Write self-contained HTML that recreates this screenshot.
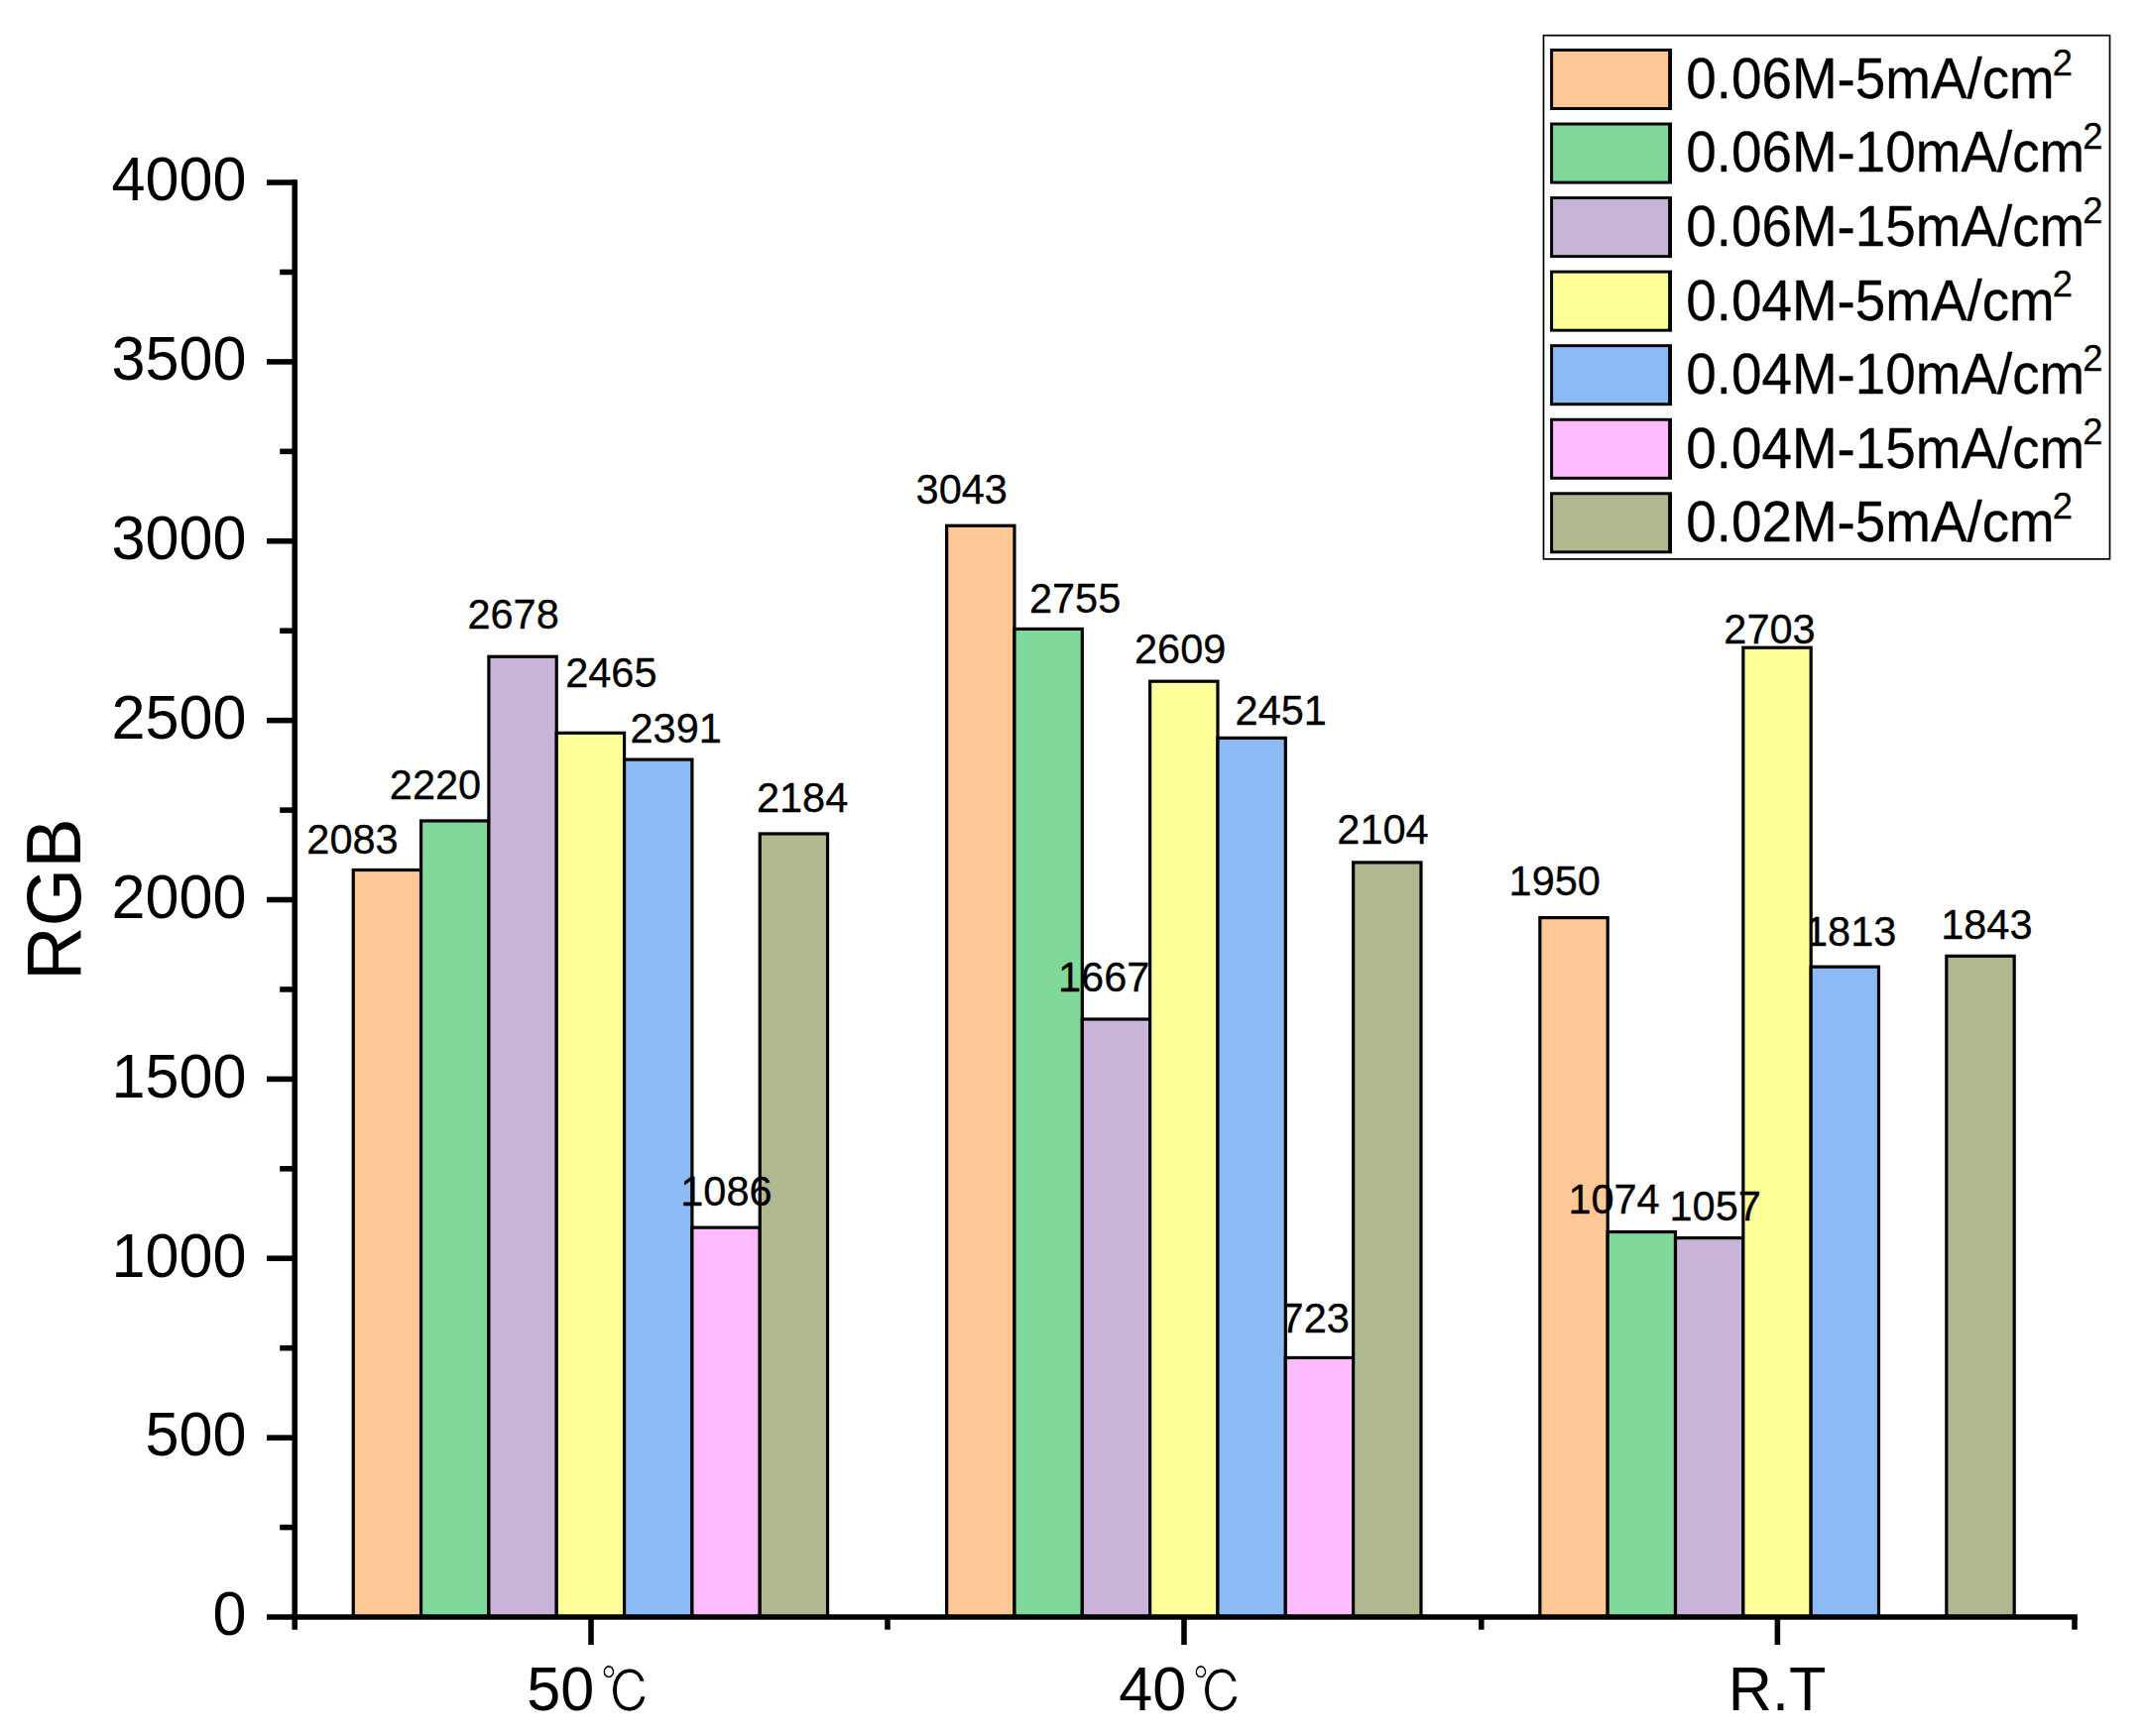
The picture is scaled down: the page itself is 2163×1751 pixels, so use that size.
<!DOCTYPE html>
<html lang="zh"><head><meta charset="utf-8"><title>RGB bar chart</title>
<style>html,body{margin:0;padding:0;background:#fff}body{width:2163px;height:1751px;overflow:hidden}svg{display:block}#legend text,#labels text,#labels-under text{stroke:#000;stroke-width:.3px}</style></head>
<body>
<svg width="2163" height="1751" viewBox="0 0 2163 1751" font-family='"Liberation Sans", "IPAGothic", sans-serif' fill="#000">
<rect width="2163" height="1751" fill="#fff"/>
<g id="labels-under">
<text transform="translate(1291.57,1343.80) scale(1,1.04)" font-size="41.5" text-anchor="start">723</text>
<text transform="translate(1819.98,953.60) scale(1,1.04)" font-size="41.5" text-anchor="start">1813</text>
</g>
<g id="bars" stroke="#000" stroke-width="3.2" stroke-linejoin="miter">
<rect x="356.25" y="877.50" width="68.33" height="753.50" fill="#FFC896"/>
<rect x="424.57" y="827.94" width="68.33" height="803.06" fill="#80D99B"/>
<rect x="492.90" y="662.26" width="68.33" height="968.74" fill="#C9B3D9"/>
<rect x="561.24" y="739.31" width="68.33" height="891.69" fill="#FFFF99"/>
<rect x="629.57" y="766.08" width="68.33" height="864.92" fill="#8CBAF5"/>
<rect x="697.89" y="1238.15" width="68.33" height="392.85" fill="#FFBBFF"/>
<rect x="766.23" y="840.96" width="68.33" height="790.04" fill="#B0B890"/>
<rect x="954.64" y="530.23" width="68.33" height="1100.77" fill="#FFC896"/>
<rect x="1022.98" y="634.41" width="68.33" height="996.59" fill="#80D99B"/>
<rect x="1091.31" y="1027.98" width="68.33" height="603.02" fill="#C9B3D9"/>
<rect x="1159.63" y="687.22" width="68.33" height="943.78" fill="#FFFF99"/>
<rect x="1227.96" y="744.38" width="68.33" height="886.62" fill="#8CBAF5"/>
<rect x="1296.30" y="1369.46" width="68.33" height="261.54" fill="#FFBBFF"/>
<rect x="1364.62" y="869.90" width="68.33" height="761.10" fill="#B0B890"/>
<rect x="1552.85" y="925.61" width="68.33" height="705.39" fill="#FFC896"/>
<rect x="1621.17" y="1242.49" width="68.33" height="388.51" fill="#80D99B"/>
<rect x="1689.51" y="1248.64" width="68.33" height="382.36" fill="#C9B3D9"/>
<rect x="1757.84" y="653.22" width="68.33" height="977.78" fill="#FFFF99"/>
<rect x="1826.16" y="975.17" width="68.33" height="655.83" fill="#8CBAF5"/>
<rect x="1962.83" y="964.31" width="68.33" height="666.69" fill="#B0B890"/>
</g>
<g id="labels">
<text transform="translate(309.31,861.00) scale(1,1.04)" font-size="41.5" text-anchor="start">2083</text>
<text transform="translate(392.81,805.80) scale(1,1.04)" font-size="41.5" text-anchor="start">2220</text>
<text transform="translate(471.41,634.40) scale(1,1.04)" font-size="41.5" text-anchor="start">2678</text>
<text transform="translate(570.21,692.90) scale(1,1.04)" font-size="41.5" text-anchor="start">2465</text>
<text transform="translate(635.51,749.30) scale(1,1.04)" font-size="41.5" text-anchor="start">2391</text>
<text transform="translate(686.28,1216.30) scale(1,1.04)" font-size="41.5" text-anchor="start">1086</text>
<text transform="translate(762.91,819.00) scale(1,1.04)" font-size="41.5" text-anchor="start">2184</text>
<text transform="translate(923.62,507.70) scale(1,1.04)" font-size="41.5" text-anchor="start">3043</text>
<text transform="translate(1037.91,618.20) scale(1,1.04)" font-size="41.5" text-anchor="start">2755</text>
<text transform="translate(1066.98,1000.40) scale(1,1.04)" font-size="41.5" text-anchor="start">1667</text>
<text transform="translate(1144.01,669.00) scale(1,1.04)" font-size="41.5" text-anchor="start">2609</text>
<text transform="translate(1245.61,731.10) scale(1,1.04)" font-size="41.5" text-anchor="start">2451</text>
<text transform="translate(1348.31,851.20) scale(1,1.04)" font-size="41.5" text-anchor="start">2104</text>
<text transform="translate(1521.58,903.30) scale(1,1.04)" font-size="41.5" text-anchor="start">1950</text>
<text transform="translate(1581.38,1224.00) scale(1,1.04)" font-size="41.5" text-anchor="start">1074</text>
<text transform="translate(1683.48,1230.60) scale(1,1.04)" font-size="41.5" text-anchor="start">1057</text>
<text transform="translate(1738.31,649.30) scale(1,1.04)" font-size="41.5" text-anchor="start">2703</text>
<text transform="translate(1957.18,946.60) scale(1,1.04)" font-size="41.5" text-anchor="start">1843</text>
</g>
<g id="axes" stroke="#000" stroke-width="5.56" fill="none">
<path d="M297.2 181.26V1643.70"/>
<path d="M269.0 1631.0H2094.8"/>
<path d="M269.0 1450.13H297.2"/>
<path d="M269.0 1269.26H297.2"/>
<path d="M269.0 1088.39H297.2"/>
<path d="M269.0 907.52H297.2"/>
<path d="M269.0 726.65H297.2"/>
<path d="M269.0 545.78H297.2"/>
<path d="M269.0 364.91H297.2"/>
<path d="M269.0 184.04H297.2"/>
<path d="M282.2 1540.57H297.2"/>
<path d="M282.2 1359.69H297.2"/>
<path d="M282.2 1178.83H297.2"/>
<path d="M282.2 997.96H297.2"/>
<path d="M282.2 817.09H297.2"/>
<path d="M282.2 636.22H297.2"/>
<path d="M282.2 455.35H297.2"/>
<path d="M282.2 274.47H297.2"/>
<path d="M596.0 1631.0V1659.00"/>
<path d="M1194.0 1631.0V1659.00"/>
<path d="M1792.4 1631.0V1659.00"/>
<path d="M895 1631.0V1643.70"/>
<path d="M1493.8 1631.0V1643.70"/>
<path d="M2092 1631.0V1643.70"/>
</g>
<g id="yticks">
<text transform="translate(248.39,1649.30) scale(1,1.04)" font-size="61.11" text-anchor="end">0</text>
<text transform="translate(248.39,1468.43) scale(1,1.04)" font-size="61.11" text-anchor="end">500</text>
<text transform="translate(248.39,1287.56) scale(1,1.04)" font-size="61.11" text-anchor="end">1000</text>
<text transform="translate(248.39,1106.69) scale(1,1.04)" font-size="61.11" text-anchor="end">1500</text>
<text transform="translate(248.39,925.82) scale(1,1.04)" font-size="61.11" text-anchor="end">2000</text>
<text transform="translate(248.39,744.95) scale(1,1.04)" font-size="61.11" text-anchor="end">2500</text>
<text transform="translate(248.39,564.08) scale(1,1.04)" font-size="61.11" text-anchor="end">3000</text>
<text transform="translate(248.39,383.21) scale(1,1.04)" font-size="61.11" text-anchor="end">3500</text>
<text transform="translate(248.39,202.34) scale(1,1.04)" font-size="61.11" text-anchor="end">4000</text>
</g>
<g id="xticks">
<text transform="translate(531.16,1725.3) scale(1,1.04)" font-size="61.11">50<tspan font-size="56.2" dx="6.45" dy="2.2" textLength="51" lengthAdjust="spacingAndGlyphs" stroke="#fff" stroke-width="0.8">℃</tspan></text>
<text transform="translate(1128.20,1725.3) scale(1,1.04)" font-size="61.11">40<tspan font-size="56.2" dx="6.45" dy="2.2" textLength="51" lengthAdjust="spacingAndGlyphs" stroke="#fff" stroke-width="0.8">℃</tspan></text>
<text transform="translate(1792.00,1725.30) scale(1,1.04)" font-size="61.11" text-anchor="middle">R.T</text>
</g>
<text transform="translate(80.5,907.2) rotate(-90) scale(1,1.04)" font-size="75.5" text-anchor="middle">RGB</text>
<g id="legend">
<rect x="1556.5" y="35.7" width="571.0" height="528.2" fill="#fff" stroke="#000" stroke-width="1.7"/>
<rect x="1563.1" y="49.00" width="122.9" height="62" fill="#000"/>
<rect x="1566.1" y="51.95" width="116.0" height="56.1" fill="#FFC896"/>
<text transform="translate(1700.36,98.90) scale(1,1.04)" font-size="54.8">0.06M-5mA/cm<tspan font-size="36.4" dx="-2" dy="-22.5">2</tspan></text>
<rect x="1563.1" y="123.55" width="122.9" height="62" fill="#000"/>
<rect x="1566.1" y="126.50" width="116.0" height="56.1" fill="#80D99B"/>
<text transform="translate(1700.36,173.45) scale(1,1.04)" font-size="54.8">0.06M-10mA/cm<tspan font-size="36.4" dx="-2" dy="-22.5">2</tspan></text>
<rect x="1563.1" y="198.10" width="122.9" height="62" fill="#000"/>
<rect x="1566.1" y="201.05" width="116.0" height="56.1" fill="#C9B3D9"/>
<text transform="translate(1700.36,248.00) scale(1,1.04)" font-size="54.8">0.06M-15mA/cm<tspan font-size="36.4" dx="-2" dy="-22.5">2</tspan></text>
<rect x="1563.1" y="272.65" width="122.9" height="62" fill="#000"/>
<rect x="1566.1" y="275.60" width="116.0" height="56.1" fill="#FFFF99"/>
<text transform="translate(1700.36,322.55) scale(1,1.04)" font-size="54.8">0.04M-5mA/cm<tspan font-size="36.4" dx="-2" dy="-22.5">2</tspan></text>
<rect x="1563.1" y="347.20" width="122.9" height="62" fill="#000"/>
<rect x="1566.1" y="350.15" width="116.0" height="56.1" fill="#8CBAF5"/>
<text transform="translate(1700.36,397.10) scale(1,1.04)" font-size="54.8">0.04M-10mA/cm<tspan font-size="36.4" dx="-2" dy="-22.5">2</tspan></text>
<rect x="1563.1" y="421.75" width="122.9" height="62" fill="#000"/>
<rect x="1566.1" y="424.70" width="116.0" height="56.1" fill="#FFBBFF"/>
<text transform="translate(1700.36,471.65) scale(1,1.04)" font-size="54.8">0.04M-15mA/cm<tspan font-size="36.4" dx="-2" dy="-22.5">2</tspan></text>
<rect x="1563.1" y="496.30" width="122.9" height="62" fill="#000"/>
<rect x="1566.1" y="499.25" width="116.0" height="56.1" fill="#B0B890"/>
<text transform="translate(1700.36,546.20) scale(1,1.04)" font-size="54.8">0.02M-5mA/cm<tspan font-size="36.4" dx="-2" dy="-22.5">2</tspan></text>
</g>
</svg>
</body></html>
